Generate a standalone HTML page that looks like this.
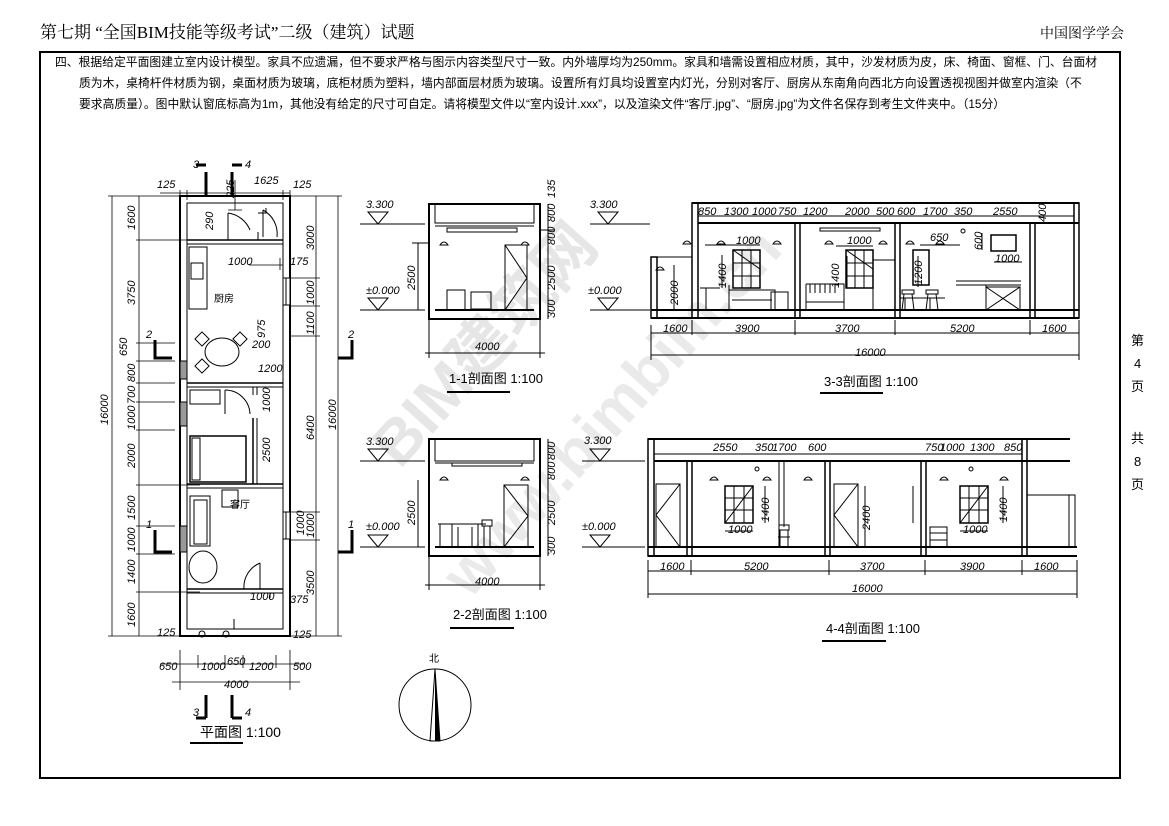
<!DOCTYPE html>
<html><head><meta charset="utf-8"><style>
html,body{margin:0;padding:0;background:#fff;}
svg{display:block;}
text{font-family:"Liberation Sans Narrow","Liberation Sans","Noto Sans CJK SC",sans-serif;fill:#000;}
.d{font-size:11px;font-style:italic;}
</style></head><body>
<svg width="1169" height="826" viewBox="0 0 1169 826" xmlns="http://www.w3.org/2000/svg">
<rect width="1169" height="826" fill="#fff"/>
<g font-weight="bold" font-family="Liberation Sans,Noto Sans CJK SC,sans-serif">
<text x="0" y="0" font-size="62" transform="translate(400,470) rotate(-48)" style="fill:#e6e6e6">BIM建筑网</text>
<text x="0" y="0" font-size="62" transform="translate(470,600) rotate(-48)" style="fill:#eaeaea">www.bimbim.cn</text>
</g>
<text x="40" y="38" font-size="17" style="font-family:'Liberation Serif','Noto Serif CJK SC',serif">第七期 “全国BIM技能等级考试”二级（建筑）试题</text>
<text x="1040" y="38" font-size="14" style="font-family:'Liberation Serif','Noto Serif CJK SC',serif">中国图学学会</text>
<rect x="40" y="52" width="1080" height="726" fill="none" stroke="#000" stroke-width="2"/>
<g font-size="11.8" style="font-family:'Liberation Serif','Noto Serif CJK SC',serif">
<text x="55" y="66">四、根据给定平面图建立室内设计模型。家具不应遗漏，但不要求严格与图示内容类型尺寸一致。内外墙厚均为250mm。家具和墙需设置相应材质，其中，沙发材质为皮，床、椅面、窗框、门、台面材</text>
<text x="79" y="87">质为木，桌椅杆件材质为钢，桌面材质为玻璃，底柜材质为塑料，墙内部面层材质为玻璃。设置所有灯具均设置室内灯光，分别对客厅、厨房从东南角向西北方向设置透视视图并做室内渲染（不</text>
<text x="79" y="108">要求高质量）。图中默认窗底标高为1m，其他没有给定的尺寸可自定。请将模型文件以“室内设计.xxx”，以及渲染文件“客厅.jpg”、“厨房.jpg”为文件名保存到考生文件夹中。（15分）</text>
</g>
<g font-size="13" style="font-family:'Liberation Serif','Noto Serif CJK SC',serif">
<text x="1131" y="345">第</text><text x="1134" y="368">4</text><text x="1131" y="391">页</text>
<text x="1131" y="443">共</text><text x="1134" y="466">8</text><text x="1131" y="489">页</text>
</g>

<!-- PLAN -->
<g stroke="#000" fill="none" stroke-width="1">
<rect x="180" y="196" width="110" height="440" stroke-width="2"/>
<rect x="187" y="203" width="96" height="426"/>
<line x1="187" y1="240" x2="283" y2="240" stroke-width="1.5"/><line x1="187" y1="244" x2="283" y2="244"/>
<line x1="187" y1="383" x2="283" y2="383" stroke-width="1.5"/><line x1="187" y1="387" x2="283" y2="387"/>
<line x1="187" y1="484" x2="283" y2="484" stroke-width="1.5"/><line x1="187" y1="488" x2="283" y2="488"/>
<line x1="187" y1="589" x2="283" y2="589" stroke-width="1.5"/><line x1="187" y1="593" x2="283" y2="593"/>
<line x1="253" y1="418" x2="253" y2="484" stroke-width="1.5"/><line x1="257" y1="418" x2="257" y2="484"/>
<line x1="253" y1="387" x2="253" y2="395"/><line x1="257" y1="387" x2="257" y2="395"/>
<rect x="180" y="361" width="7" height="18" fill="#999"/>
<rect x="180" y="402" width="7" height="24" fill="#999"/>
<rect x="180" y="526" width="7" height="26" fill="#999"/>
<rect x="283" y="278" width="7" height="27" fill="#fff"/><line x1="286" y1="278" x2="286" y2="305"/>
<rect x="283" y="512" width="7" height="27" fill="#fff"/><line x1="286" y1="512" x2="286" y2="539"/>
<path d="M258 213 h8 v-5 M258 240 v-8 M263 210 A27 27 0 0 1 277 237"/>
<line x1="263" y1="210" x2="263" y2="237"/>
<path d="M228 213 A28 28 0 0 1 250 230"/><line x1="228" y1="213" x2="228" y2="240"/>
<rect x="189" y="247" width="18" height="62"/><rect x="191" y="263" width="12" height="16"/>
<ellipse cx="222" cy="352" rx="17" ry="14"/>
<rect x="197" y="334" width="10" height="10" transform="rotate(45 202 339)"/>
<rect x="235" y="334" width="10" height="10" transform="rotate(45 240 339)"/>
<rect x="197" y="361" width="10" height="10" transform="rotate(45 202 366)"/>
<rect x="190" y="390" width="30" height="14"/>
<path d="M225 390 A25 25 0 0 1 250 414"/><line x1="225" y1="390" x2="225" y2="414"/>
<rect x="190" y="436" width="56" height="46" stroke-width="1.5"/><rect x="192" y="438" width="8" height="42"/>
<rect x="222" y="490" width="16" height="17"/>
<rect x="190" y="496" width="20" height="50"/><rect x="194" y="500" width="13" height="44"/>
<ellipse cx="203" cy="567" rx="14" ry="16"/>
<path d="M260 563 A26 26 0 0 0 244 589"/><line x1="260" y1="563" x2="260" y2="589"/>
<path d="M270 593 v5 M234 629 v-10"/>
<circle cx="202" cy="634" r="3"/><circle cx="226" cy="634" r="3"/>
</g>
<text x="214" y="302" font-size="10">厨房</text>
<text x="230" y="508" font-size="10">客厅</text>
<g stroke="#000" stroke-width="0.8" fill="none">
<line x1="112" y1="196" x2="112" y2="636"/><line x1="139" y1="196" x2="139" y2="636"/>
<path d="M108 196 H180 M108 636 H180 M136 240 H200 M136 343 H175 M136 361 H175 M136 383 H175 M136 402 H175 M136 430 H175 M136 485 H200 M136 526 H175 M136 554 H175 M136 592 H200"/>
<line x1="338" y1="196" x2="338" y2="636"/><line x1="316" y1="196" x2="316" y2="636"/>
<path d="M290 196 H342 M290 636 H342 M290 278 H320 M290 306 H320 M290 336 H320 M290 512 H320 M290 540 H320"/>
<path d="M180 650 V690 M290 650 V690 M160 664 H305 M172 682 H300 M198 655 V668 M225 655 V668 M243 655 V668 M276 655 V668"/>
<path d="M160 193 H290 M180 190 V200 M187 190 V200 M235 180 V210 M283 190 V200 M290 190 V200 M228 210 H242 M249 265 H283 M280 258 V270"/>
</g>
<g class="d">
<text transform="translate(108 425) rotate(-90)">16000</text>
<text transform="translate(135 230) rotate(-90)">1600</text>
<text transform="translate(135 305) rotate(-90)">3750</text>
<text transform="translate(127 356) rotate(-90)">650</text>
<text transform="translate(135 382) rotate(-90)">800</text>
<text transform="translate(135 404) rotate(-90)">700</text>
<text transform="translate(135 430) rotate(-90)">1000</text>
<text transform="translate(135 468) rotate(-90)">2000</text>
<text transform="translate(135 520) rotate(-90)">1500</text>
<text transform="translate(135 552) rotate(-90)">1000</text>
<text transform="translate(135 584) rotate(-90)">1400</text>
<text transform="translate(135 627) rotate(-90)">1600</text>
<text transform="translate(314 250) rotate(-90)">3000</text>
<text transform="translate(314 305) rotate(-90)">1000</text>
<text transform="translate(314 335) rotate(-90)">1100</text>
<text transform="translate(314 440) rotate(-90)">6400</text>
<text transform="translate(314 538) rotate(-90)">1000</text>
<text transform="translate(314 595) rotate(-90)">3500</text>
<text transform="translate(336 430) rotate(-90)">16000</text>
<text x="157" y="188">125</text><text x="254" y="184">1625</text><text x="293" y="188">125</text>
<text transform="translate(234 198) rotate(-90)">225</text>
<text transform="translate(213 230) rotate(-90)">290</text>
<text x="228" y="265">1000</text><text x="290" y="265">175</text>
<text transform="translate(265 338) rotate(-90)">975</text>
<text x="252" y="348">200</text><text x="258" y="372">1200</text>
<text transform="translate(270 412) rotate(-90)">1000</text>
<text transform="translate(270 462) rotate(-90)">2500</text>
<text transform="translate(304 535) rotate(-90)">1000</text>
<text x="250" y="600">1000</text><text x="290" y="603">375</text>
<text x="157" y="636">125</text><text x="293" y="638">125</text>
<text x="159" y="670">650</text><text x="201" y="670">1000</text><text x="227" y="665">650</text><text x="249" y="670">1200</text><text x="293" y="670">500</text>
<text x="224" y="688">4000</text>
</g>
<g stroke="#000" stroke-width="3" fill="none">
<path d="M206 172 V195 M196 165 H206"/><path d="M232 172 V195 M232 165 H242"/>
<path d="M206 695 V718 M196 718 H206"/><path d="M232 695 V718 M232 718 H242"/>
<path d="M155 340 V358 H172"/><path d="M352 340 V358 H338"/>
<path d="M155 530 V552 H172"/><path d="M352 530 V552 H338"/>
</g>
<g class="d" font-size="12"><text x="193" y="168">3</text><text x="245" y="168">4</text><text x="193" y="716">3</text><text x="245" y="716">4</text>
<text x="146" y="338">2</text><text x="348" y="338">2</text><text x="146" y="528">1</text><text x="348" y="528">1</text></g>
<text x="200" y="737" font-size="14">平面图  1:100</text>
<line x1="190" y1="743" x2="243" y2="743" stroke="#000" stroke-width="2"/>

<circle cx="435" cy="705" r="36" fill="none" stroke="#000" stroke-width="1"/>
<path d="M435 669 L430 741 L440 741 Z" fill="none" stroke="#000"/>
<path d="M435 669 L435 741 L440 741 Z" fill="#000"/>
<text x="429" y="662" font-size="10">北</text>

<!-- 1-1 -->
<g stroke="#000" fill="none" stroke-width="1">
<rect x="429" y="204" width="111" height="115" stroke-width="2"/>
<rect x="435" y="204" width="99" height="19"/>
<line x1="435" y1="226" x2="534" y2="226"/>
<line x1="435" y1="310" x2="534" y2="310" stroke-width="2"/>
<rect x="447" y="228" width="70" height="4"/>
<rect x="505" y="245" width="22" height="65"/><path d="M505 245 L527 278 L505 310"/>
<rect x="447" y="290" width="18" height="20"/><rect x="471" y="292" width="20" height="17"/>
<path d="M440 245 q4 -6 8 0 z M521 245 q4 -6 8 0 z"/>
<path d="M360 224 H425 M378 224 L368 212 H388 Z"/><path d="M360 310 H425 M378 310 L368 298 H388 Z"/>
<path d="M418 243 V310 M548 204 V319 M412 243 H430 M540 230 H555"/>
<path d="M429 320 V358 M540 320 V358 M425 353 H545"/>
</g>
<g class="d"><text x="366" y="208">3.300</text><text x="366" y="294">±0.000</text>
<text transform="translate(415 290) rotate(-90)">2500</text>
<text transform="translate(555 198) rotate(-90)">135</text>
<text transform="translate(555 222) rotate(-90)">800</text>
<text transform="translate(555 245) rotate(-90)">800</text>
<text transform="translate(555 290) rotate(-90)">2500</text>
<text transform="translate(555 318) rotate(-90)">300</text>
<text x="475" y="350">4000</text></g>
<text x="449" y="383" font-size="13">1-1剖面图  1:100</text>
<line x1="447" y1="392" x2="510" y2="392" stroke="#000" stroke-width="2"/>

<!-- 2-2 -->
<g stroke="#000" fill="none" stroke-width="1">
<rect x="429" y="439" width="111" height="117" stroke-width="2"/>
<rect x="435" y="439" width="99" height="22"/>
<line x1="435" y1="463" x2="534" y2="463"/>
<line x1="435" y1="547" x2="534" y2="547" stroke-width="2"/>
<rect x="452" y="463" width="70" height="3"/>
<rect x="504" y="485" width="24" height="62"/><path d="M504 485 L528 516 L504 547"/>
<path d="M438 524 H486 M440 524 V547 M452 524 V547 M478 524 V547"/>
<path d="M458 527 V547 M472 527 V547 M482 520 h10 v6 h-10 z M484 526 V547 M490 526 V547"/>
<path d="M440 480 q4 -6 8 0 z M521 480 q4 -6 8 0 z"/>
<path d="M360 461 H425 M378 461 L368 449 H388 Z"/><path d="M360 547 H425 M378 547 L368 535 H388 Z"/>
<path d="M418 480 V547 M548 439 V556"/>
<path d="M429 557 V590 M540 557 V590 M425 585 H545"/>
</g>
<g class="d"><text x="366" y="445">3.300</text><text x="366" y="530">±0.000</text>
<text transform="translate(415 525) rotate(-90)">2500</text>
<text transform="translate(555 460) rotate(-90)">800</text>
<text transform="translate(555 480) rotate(-90)">800</text>
<text transform="translate(555 525) rotate(-90)">2500</text>
<text transform="translate(555 555) rotate(-90)">300</text>
<text x="475" y="585">4000</text></g>
<text x="453" y="619" font-size="13">2-2剖面图  1:100</text>
<line x1="450" y1="628" x2="514" y2="628" stroke="#000" stroke-width="2"/>

<!-- 3-3 -->
<g stroke="#000" fill="none" stroke-width="1">
<line x1="692" y1="203" x2="1079" y2="203" stroke-width="2"/>
<line x1="698" y1="223" x2="1079" y2="223" stroke-width="2"/>
<line x1="651" y1="310" x2="1079" y2="310" stroke-width="2"/>
<line x1="651" y1="318" x2="1079" y2="318" stroke-width="2"/>
<rect x="651" y="257" width="6" height="61" stroke-width="1.5"/><line x1="651" y1="257" x2="692" y2="257"/>
<rect x="692" y="203" width="6" height="115" stroke-width="1.5"/>
<rect x="795" y="223" width="5" height="95" stroke-width="1.5"/>
<rect x="895" y="223" width="5" height="95" stroke-width="1.5"/>
<rect x="1030" y="223" width="5" height="95" stroke-width="1.5"/>
<rect x="1074" y="203" width="5" height="115" stroke-width="1.5"/>
<line x1="698" y1="216" x2="1074" y2="216"/>
<rect x="733" y="250" width="27" height="38" stroke-width="1.5"/><path d="M742 250 V288 M751 250 V288 M733 263 H760 M733 276 H760 M733 250 L760 269"/>
<rect x="846" y="250" width="27" height="38" stroke-width="1.5"/><path d="M855 250 V288 M864 250 V288 M846 263 H873 M846 276 H873 M846 250 L873 269"/>
<rect x="913" y="250" width="16" height="35" stroke-width="1.5"/>
<rect x="991" y="235" width="25" height="16" stroke-width="1.5"/>
<path d="M700 288 H720 M706 288 V310 M729 285 V310 M729 290 H775 V310 M732 300 H772 M771 292 h17 v18 h-17 z"/>
<path d="M806 284 H844 V310 M806 284 V310 M810 284 V293 M815 284 V293 M820 284 V293 M825 284 V293 M830 284 V293 M835 284 V293 M806 302 H844"/>
<rect x="873" y="260" width="22" height="50"/>
<path d="M902 290 h12 v4 h-12 z M904 294 L902 310 M912 294 L914 310 M900 298 H945 M905 298 V310 M930 298 V310 M926 290 h12 v4 h-12 z M928 294 L926 310 M936 294 L938 310"/>
<path d="M956 281 H1021 M956 285 H1021 M986 285 V310 M986 287 H1020 V310 M986 287 L1020 310 M1020 287 L986 310"/>
<rect x="820" y="228" width="60" height="3"/>
<path d="M656 270 q4 -6 8 0 z M683 244 q4 -6 8 0 z M717 244 q4 -6 8 0 z M773 244 q4 -6 8 0 z M825 244 q4 -6 8 0 z M879 244 q4 -6 8 0 z M906 244 q4 -6 8 0 z M936 244 q4 -6 8 0 z"/>
<circle cx="963" cy="231" r="2"/>
<path d="M590 224 H650 M608 224 L598 212 H618 Z"/><path d="M590 310 H650 M608 310 L598 298 H618 Z"/>
<path d="M651 325 V360 M692 320 V335 M795 320 V335 M895 320 V335 M1030 320 V335 M1079 320 V360 M651 333 H1079 M651 355 H1079"/>
<path d="M674 265 V310 M722 255 V288 M847 256 V288 M918 256 V287 M705 245 H760 M836 246 H873 M920 245 H960 M994 262 H1022 M982 233 V250"/>
</g>
<g class="d"><text x="590" y="208">3.300</text><text x="588" y="294">±0.000</text>
<text transform="translate(678 305) rotate(-90)">2000</text>
<text transform="translate(726 288) rotate(-90)">1400</text>
<text transform="translate(839 288) rotate(-90)">1400</text>
<text transform="translate(922 285) rotate(-90)">1200</text>
<text transform="translate(982 250) rotate(-90)">600</text>
<text x="736" y="244">1000</text><text x="847" y="244">1000</text><text x="930" y="241">650</text><text x="995" y="262">1000</text>
<text x="698" y="215">850</text><text x="724" y="215">1300</text><text x="752" y="215">1000</text><text x="778" y="215">750</text><text x="803" y="215">1200</text><text x="845" y="215">2000</text><text x="876" y="215">500</text>
<text x="897" y="215">600</text><text x="923" y="215">1700</text><text x="954" y="215">350</text><text x="993" y="215">2550</text>
<text transform="translate(1046 222) rotate(-90)">400</text>
<text x="663" y="332">1600</text><text x="735" y="332">3900</text><text x="835" y="332">3700</text><text x="950" y="332">5200</text><text x="1042" y="332">1600</text>
<text x="855" y="356">16000</text></g>
<text x="824" y="386" font-size="13">3-3剖面图  1:100</text>
<line x1="820" y1="393" x2="883" y2="393" stroke="#000" stroke-width="2"/>

<!-- 4-4 -->
<g stroke="#000" fill="none" stroke-width="1">
<line x1="648" y1="439" x2="1070" y2="439" stroke-width="2"/>
<line x1="654" y1="461" x2="1070" y2="461" stroke-width="2"/>
<line x1="648" y1="547" x2="1077" y2="547" stroke-width="2"/>
<line x1="648" y1="556" x2="1077" y2="556" stroke-width="2"/>
<rect x="648" y="439" width="6" height="117" stroke-width="1.5"/>
<rect x="687" y="461" width="5" height="95" stroke-width="1.5"/>
<rect x="825" y="461" width="5" height="95" stroke-width="1.5"/>
<rect x="921" y="461" width="5" height="95" stroke-width="1.5"/>
<rect x="1022" y="439" width="5" height="117" stroke-width="1.5"/>
<path d="M1027 495 H1075 V547 M1069 495 V547"/>
<line x1="654" y1="454" x2="1022" y2="454"/>
<rect x="656" y="484" width="24" height="63"/><path d="M680 484 L656 515 L680 547"/>
<rect x="834" y="484" width="24" height="63"/><path d="M858 484 L834 515 L858 547"/>
<rect x="725" y="486" width="28" height="37" stroke-width="1.5"/><path d="M734 486 V523 M744 486 V523 M725 498 H753 M725 510 H753 M725 523 L753 486"/>
<rect x="960" y="486" width="28" height="37" stroke-width="1.5"/><path d="M969 486 V523 M979 486 V523 M960 498 H988 M960 510 H988 M960 523 L988 486"/>
<path d="M779 461 V547 M784 461 V527"/>
<path d="M779 525 h10 v5 h-10 z M780 530 V547 M788 530 V547 M778 537 H790"/>
<path d="M930 527 h17 v20 h-17 z M930 533 H947 M930 540 H947"/>
<path d="M710 480 q4 -6 8 0 z M763 480 q4 -6 8 0 z M804 480 q4 -6 8 0 z M940 480 q4 -6 8 0 z M1000 480 q4 -6 8 0 z"/>
<circle cx="757" cy="469" r="2"/><circle cx="971" cy="469" r="2"/>
<path d="M582 461 H645 M600 461 L590 449 H610 Z"/><path d="M582 547 H645 M600 547 L590 535 H610 Z"/>
<path d="M648 560 V598 M691 560 V575 M829 560 V575 M925 560 V575 M1022 560 V575 M1077 560 V598 M648 571 H1077 M648 594 H1077"/>
<path d="M765 486 V523 M913 486 V523 M1003 486 V523 M725 531 H753 M960 531 H988 M865 486 V547"/>
</g>
<g class="d"><text x="584" y="444">3.300</text><text x="582" y="530">±0.000</text>
<text transform="translate(769 522) rotate(-90)">1400</text>
<text transform="translate(1007 522) rotate(-90)">1400</text>
<text transform="translate(870 530) rotate(-90)">2400</text>
<text x="728" y="533">1000</text><text x="963" y="533">1000</text>
<text x="713" y="451">2550</text><text x="755" y="451">350</text><text x="772" y="451">1700</text><text x="808" y="451">600</text>
<text x="925" y="451">750</text><text x="940" y="451">1000</text><text x="970" y="451">1300</text><text x="1004" y="451">850</text>
<text x="660" y="570">1600</text><text x="744" y="570">5200</text><text x="860" y="570">3700</text><text x="960" y="570">3900</text><text x="1034" y="570">1600</text>
<text x="852" y="592">16000</text></g>
<text x="826" y="633" font-size="13">4-4剖面图  1:100</text>
<line x1="822" y1="641" x2="886" y2="641" stroke="#000" stroke-width="2"/>
</svg>
</body></html>
